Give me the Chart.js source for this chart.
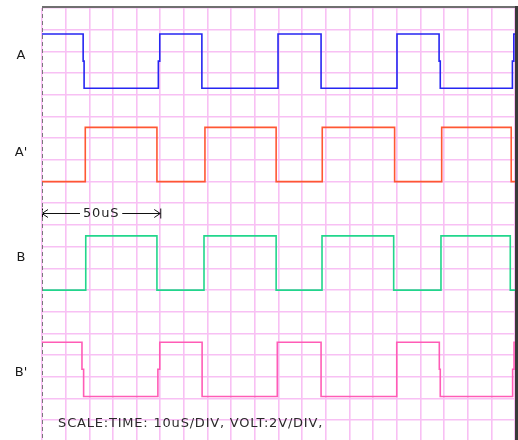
<!DOCTYPE html>
<html>
<head>
<meta charset="utf-8">
<script src="https://cdn.jsdelivr.net/npm/chart.js@4/dist/chart.umd.min.js"></script>
<style>
  html, body { margin: 0; padding: 0; background: #fff; overflow: hidden; }
  #wrap { width: 518px; height: 440px; overflow: hidden; position: relative; }
  canvas { display: block; }
</style>
</head>
<body>
<div id="wrap"><canvas id="scope" width="518" height="452"></canvas></div>
<script>
// Four logic-level traces on a 20 x 20 division scope screen.
// Time in microseconds (10 uS/div), voltage in volts (2 V/div).
const channelNames = ["A", "A'", "B", "B'"];
const channelBase = [32.6, 24.0, 14.0, 4.2];   // trace offsets on screen (V)
const labelVolts = [35.6, 26.7, 17.0, 6.4];    // where each channel name sits (V)
const channelColors = ["#2626f2", "#ff5733", "#22d68c", "#ff5cb6"];

const timeA  = [0, 17.4, 17.4, 17.8, 17.8, 49.2, 49.2, 49.8, 49.8, 67.6, 67.6, 99.8, 99.8, 118.0, 118.0, 150.1, 150.1, 167.9, 167.9, 168.4, 168.4, 198.9, 198.9, 199.5, 199.5, 200];
const voltA  = [5, 5, 2.5, 2.5, 0, 0, 2.5, 2.5, 5, 5, 0, 0, 5, 5, 0, 0, 5, 5, 2.5, 2.5, 0, 0, 2.5, 2.5, 5, 5];

const timeA2 = [0, 18.3, 18.3, 48.6, 48.6, 68.9, 68.9, 99.0, 99.0, 118.5, 118.5, 149.1, 149.1, 169.0, 169.0, 198.4, 198.4, 200];
const voltA2 = [0, 0, 5, 5, 0, 0, 5, 5, 0, 0, 5, 5, 0, 0, 5, 5, 0, 0];

const timeB  = [0, 18.5, 18.5, 48.6, 48.6, 68.5, 68.5, 99.0, 99.0, 118.4, 118.4, 148.7, 148.7, 168.7, 168.7, 198.0, 198.0, 200];
const voltB  = [0, 0, 5, 5, 0, 0, 5, 5, 0, 0, 5, 5, 0, 0, 5, 5, 0, 0];

const timeB2 = [0, 16.9, 16.9, 17.6, 17.6, 49.0, 49.0, 49.8, 49.8, 67.7, 67.7, 99.5, 99.5, 118.0, 118.0, 150.0, 150.0, 168.0, 168.0, 168.4, 168.4, 199.0, 199.0, 199.6, 199.6, 200];
const voltB2 = [5, 5, 2.5, 2.5, 0, 0, 2.5, 2.5, 5, 5, 0, 0, 5, 5, 0, 0, 5, 5, 2.5, 2.5, 0, 0, 2.5, 2.5, 5, 5];

const timeDiv = 10;   // uS per division
const voltDiv = 2;    // V per division
const spanMarker = [0, 50];   // "50uS" span marker, uS
const spanMarkerVolt = 21.1;
const scaleNote = "SCALE:TIME: 10uS/DIV, VOLT:2V/DIV,";
const scaleNotePos = [6.8, 1.7];  // uS, V

const traces = [[timeA, voltA], [timeA2, voltA2], [timeB, voltB], [timeB2, voltB2]];

const datasets = traces.map(([t, v], i) => ({
  label: channelNames[i],
  data: t.map((x, k) => ({ x: x, y: channelBase[i] + v[k] })),
  borderColor: channelColors[i],
  borderWidth: 1.6,
  pointRadius: 0,
  fill: false,
  tension: 0
}));

const TEXT_FONT = '13px "DejaVu Sans", "Liberation Sans", sans-serif';

// screen frame: dashed left edge, solid top edge, heavy right edge
const framePlugin = {
  id: 'frame',
  afterDraw(chart) {
    const { ctx, chartArea: a } = chart;
    ctx.save();
    ctx.strokeStyle = '#7a7a7a';
    ctx.lineWidth = 1;
    ctx.setLineDash([4, 3]);
    ctx.beginPath();
    ctx.moveTo(Math.round(a.left) + 0.5, a.top - 1);
    ctx.lineTo(Math.round(a.left) + 0.5, chart.height);
    ctx.stroke();
    ctx.setLineDash([]);
    ctx.strokeStyle = '#707070';
    ctx.lineWidth = 2;
    ctx.beginPath();
    ctx.moveTo(a.left, a.top - 1);
    ctx.lineTo(a.right, a.top - 1);
    ctx.stroke();
    ctx.strokeStyle = '#3a3a3a';
    ctx.lineWidth = 3;
    ctx.beginPath();
    ctx.moveTo(a.right + 1.5, a.top - 2);
    ctx.lineTo(a.right + 1.5, chart.height);
    ctx.stroke();
    ctx.restore();
  }
};

// channel names, span marker and scale note
const notesPlugin = {
  id: 'notes',
  afterDatasetsDraw(chart) {
    const { ctx } = chart;
    const xs = chart.scales.x, ys = chart.scales.y;
    ctx.save();
    ctx.font = TEXT_FONT;
    ctx.fillStyle = '#1a1a1a';
    ctx.textAlign = 'center';
    ctx.textBaseline = 'middle';
    channelNames.forEach((n, i) => {
      ctx.fillText(n, 21, ys.getPixelForValue(labelVolts[i]));
    });

    ctx.letterSpacing = '0.8px';
    // span marker |<-- 50uS -->|
    const x0 = xs.getPixelForValue(spanMarker[0]);
    const x1 = xs.getPixelForValue(spanMarker[1]);
    const y = Math.round(ys.getPixelForValue(spanMarkerVolt)) + 0.5;
    const label = (spanMarker[1] - spanMarker[0]) + 'uS';
    const tw = ctx.measureText(label).width;
    const xm = (x0 + x1) / 2;
    ctx.fillStyle = '#222';
    ctx.fillText(label, xm, y);
    ctx.strokeStyle = '#111';
    ctx.lineWidth = 1;
    ctx.beginPath();
    ctx.moveTo(x0, y); ctx.lineTo(xm - tw / 2 - 3, y);
    ctx.moveTo(xm + tw / 2 + 3, y); ctx.lineTo(x1, y);
    ctx.moveTo(x0 + 6, y - 4); ctx.lineTo(x0, y); ctx.lineTo(x0 + 6, y + 4);
    ctx.moveTo(x1 - 6, y - 4); ctx.lineTo(x1, y); ctx.lineTo(x1 - 6, y + 4);
    ctx.moveTo(x0 + 0.5, y - 5); ctx.lineTo(x0 + 0.5, y + 5);
    ctx.moveTo(x1 + 0.5, y - 5); ctx.lineTo(x1 + 0.5, y + 5);
    ctx.stroke();

    // scale note
    ctx.textAlign = 'left';
    ctx.fillStyle = '#2b2b2b';
    ctx.fillText(scaleNote, xs.getPixelForValue(scaleNotePos[0]), ys.getPixelForValue(scaleNotePos[1]));
    ctx.restore();
  }
};

const gridColor = '#f8c0f4';

new Chart(document.getElementById('scope'), {
  type: 'line',
  data: { datasets },
  options: {
    responsive: false,
    animation: false,
    layout: { padding: { left: 42, right: 3, top: 8, bottom: 10 } },
    plugins: { legend: { display: false }, tooltip: { enabled: false } },
    scales: {
      x: {
        type: 'linear',
        min: 0, max: 200,
        ticks: { display: false, stepSize: timeDiv },
        grid: { color: gridColor, lineWidth: 1.6, drawTicks: false },
        border: { display: false }
      },
      y: {
        type: 'linear',
        min: 0, max: 40,
        ticks: { display: false, stepSize: voltDiv },
        grid: { color: gridColor, lineWidth: 1.6, drawTicks: false },
        border: { display: false }
      }
    }
  },
  plugins: [framePlugin, notesPlugin]
});
</script>
</body>
</html>
